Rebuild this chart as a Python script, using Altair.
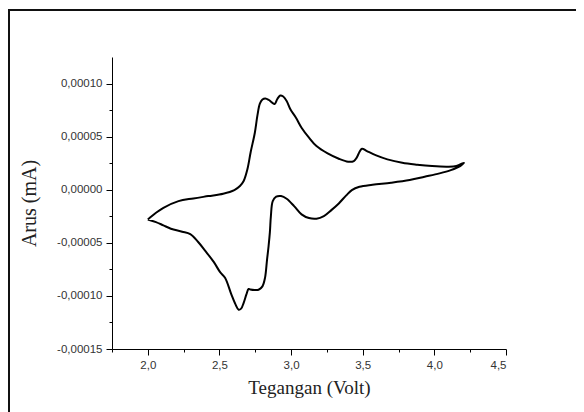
import altair as alt
import pandas as pd

# Forward scan (2.0 V -> 4.2 V), current in units of 1e-5 mA
fwd_v = [2.000, 2.057, 2.109, 2.214, 2.318, 2.422, 2.526, 2.604, 2.643, 2.669,
         2.695, 2.718, 2.747, 2.765, 2.782, 2.800, 2.820, 2.845, 2.868, 2.885,
         2.904, 2.924, 2.943, 2.969, 2.995, 3.034, 3.073, 3.125, 3.177, 3.255,
         3.333, 3.398, 3.438, 3.458, 3.477, 3.495, 3.529, 3.594, 3.672, 3.776,
         3.880, 3.984, 4.089, 4.154, 4.206]
fwd_i = [-2.80, -2.17, -1.70, -1.07, -0.82, -0.60, -0.38, -0.03, 0.35, 0.82,
         1.92, 3.55, 5.37, 7.00, 8.10, 8.50, 8.60, 8.45, 8.20, 8.07,
         8.55, 8.87, 8.80, 8.35, 7.57, 6.78, 5.84, 4.90, 4.11, 3.42,
         2.92, 2.64, 2.70, 3.02, 3.55, 3.86, 3.64, 3.23, 2.86, 2.54,
         2.36, 2.23, 2.17, 2.23, 2.54]
# Reverse scan (4.2 V -> 2.0 V)
rev_v = [4.180, 4.115, 4.036, 3.932, 3.828, 3.698, 3.568, 3.477, 3.424, 3.385,
         3.333, 3.281, 3.229, 3.177, 3.125, 3.073, 3.021, 2.969, 2.930, 2.896,
         2.872, 2.859, 2.852, 2.843, 2.832, 2.818, 2.800, 2.773, 2.745, 2.715,
         2.703, 2.688, 2.669, 2.651, 2.634, 2.612, 2.583, 2.539, 2.506, 2.460,
         2.401, 2.350, 2.296, 2.240, 2.161, 2.109, 2.057, 2.000]
rev_i = [2.23, 1.85, 1.54, 1.22, 0.91, 0.66, 0.47, 0.28, -0.03, -0.53,
         -1.29, -1.92, -2.48, -2.73, -2.67, -2.32, -1.54, -0.85, -0.60, -0.66,
         -1.07, -2.48, -4.00, -5.30, -6.60, -8.30, -9.10, -9.42, -9.45, -9.40,
         -9.35, -9.86, -10.65, -11.20, -11.30, -10.80, -9.86, -8.29, -7.79, -6.80,
         -5.76, -4.90, -4.19, -3.95, -3.67, -3.36, -3.05, -2.80]

volts = fwd_v + rev_v
amps = [v * 1e-5 for v in fwd_i + rev_i]
df = pd.DataFrame({"v": volts, "i": amps, "k": list(range(len(volts)))})

x_ticks = [1.75, 2.0, 2.25, 2.5, 2.75, 3.0, 3.25, 3.5, 3.75, 4.0, 4.25, 4.5]
y_ticks = [-0.00015, -0.000125, -0.0001, -0.000075, -0.00005, -0.000025, 0.0,
           0.000025, 0.00005, 0.000075, 0.0001]

x_major = "abs(datum.value*2 - round(datum.value*2)) < 0.01"
y_major = "abs(datum.value/0.00005 - round(datum.value/0.00005)) < 0.01"

line = alt.Chart(df).mark_line(color="black", strokeWidth=2,
                               interpolate="catmull-rom").encode(
    x=alt.X("v:Q",
            scale=alt.Scale(domain=[1.75, 4.5], nice=False, zero=False),
            axis=alt.Axis(
                values=x_ticks, title="Tegangan (Volt)", grid=False,
                domainColor="black", tickColor="black",
                tickSize={"condition": {"test": x_major, "value": 6}, "value": 3},
                labelExpr="(" + x_major + ") ? replace(format(datum.value, '.1f'), '.', ',') : ''",
                labelFont="Liberation Sans", labelFontSize=11.5, labelColor="#333333",
                labelPadding=4, titleFont="Liberation Serif", titleFontSize=19,
                titleFontWeight="normal", titleColor="#222222", titlePadding=8)),
    y=alt.Y("i:Q",
            scale=alt.Scale(domain=[-0.00015, 0.000125], nice=False, zero=False),
            axis=alt.Axis(
                values=y_ticks, title="Arus (mA)", grid=False,
                domainColor="black", tickColor="black",
                tickSize={"condition": {"test": y_major, "value": 6}, "value": 3},
                labelExpr="(" + y_major + ") ? replace(replace(format(datum.value, '.5f'), '.', ','), '\u2212', '-') : ''",
                labelFont="Liberation Sans", labelFontSize=11.5, labelColor="#333333",
                labelPadding=4, titleFont="Liberation Serif", titleFontSize=20,
                titleFontWeight="normal", titleColor="#222222", titlePadding=17)),
    order="k:Q",
)

frame = alt.Chart(alt.Data(values=[{"a": 1}])).mark_rect(
    fill=None, stroke="#111111", strokeWidth=2
).encode(
    x=alt.value(-103), x2=alt.value(700),
    y=alt.value(-47), y2=alt.value(600),
)

chart = alt.layer(frame, line).properties(
    width=394, height=292,
    padding={"left": 104, "top": 49, "right": 70, "bottom": 63},
    autosize=alt.AutoSizeParams(type="none"),
).configure_view(stroke=None)

chart.save("out.html", embed_options={"renderer": "svg", "actions": False})
